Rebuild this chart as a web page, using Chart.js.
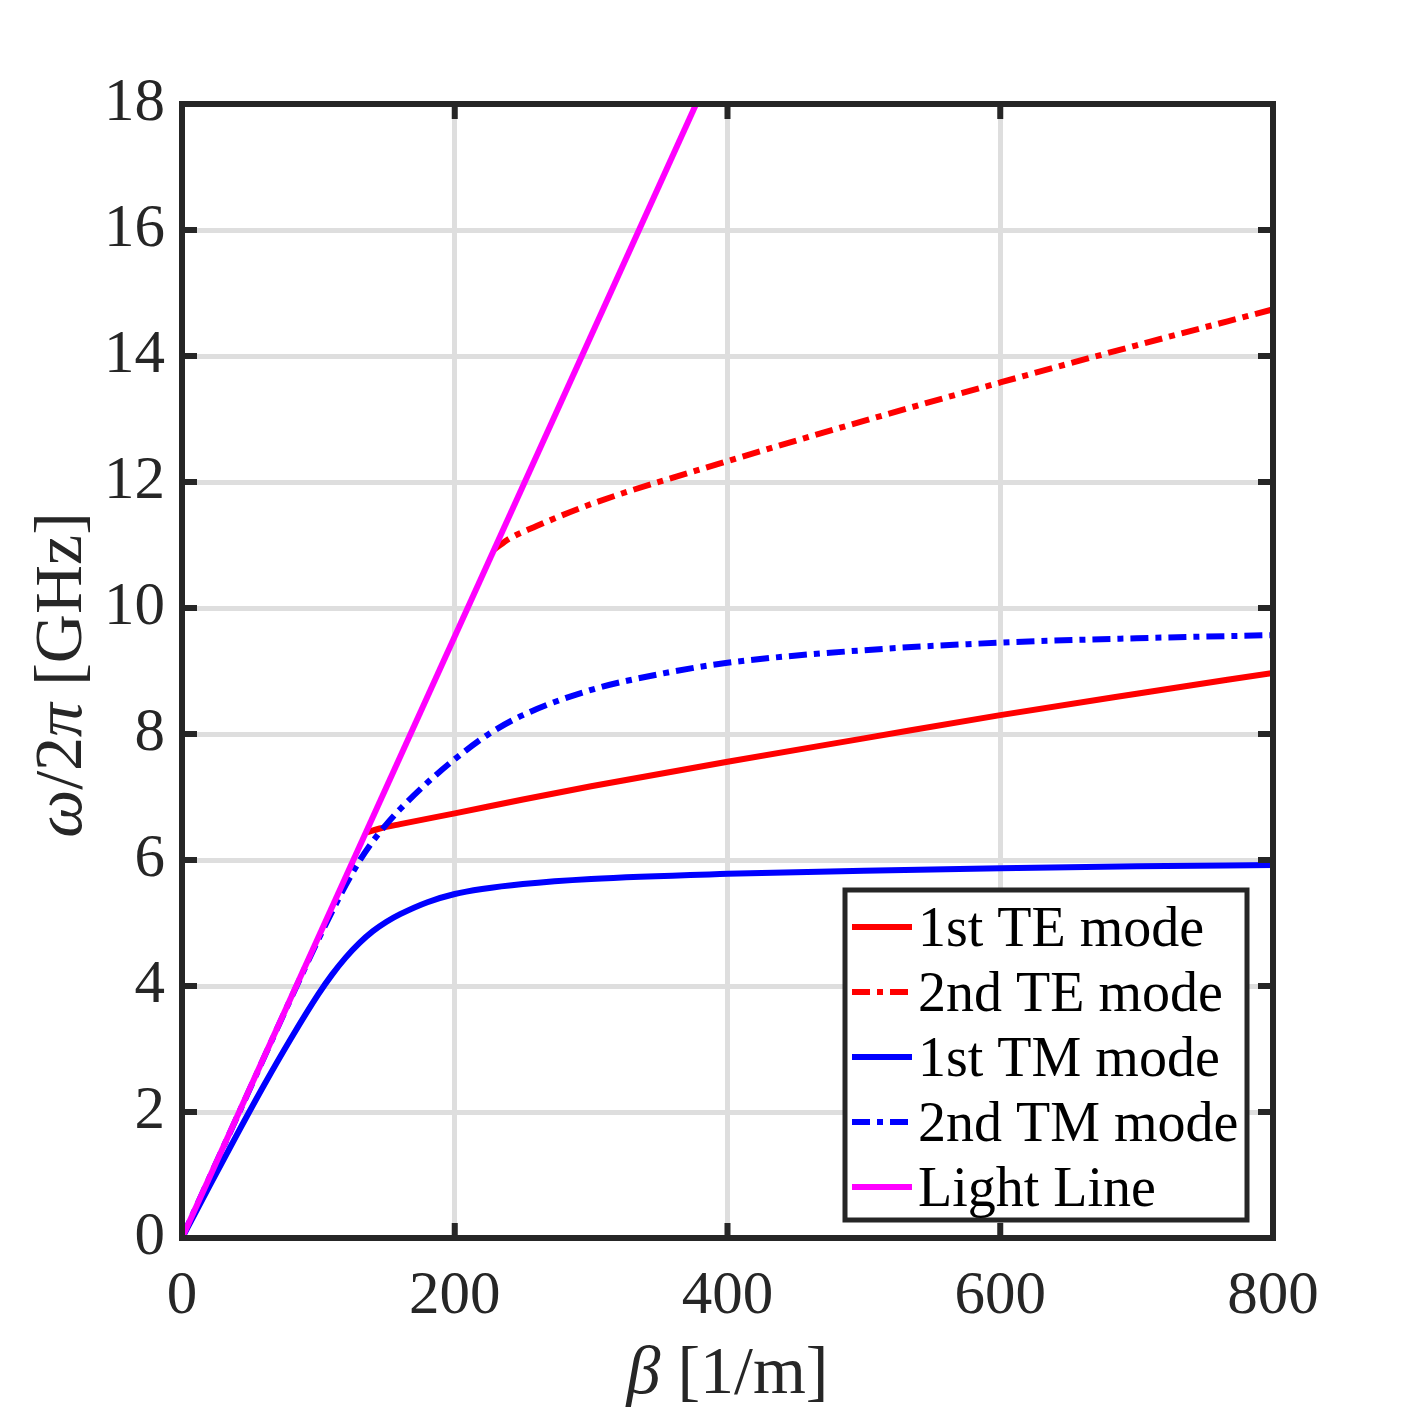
<!DOCTYPE html>
<html>
<head>
<meta charset="utf-8">
<script src="https://cdn.jsdelivr.net/npm/chart.js@4.4.1/dist/chart.umd.min.js"></script>
<style>
  body { margin: 0; background: #fff; }
</style>
</head>
<body>
<canvas id="grafica" width="1407" height="1407"></canvas>
<script>
// ticks
const xTicks = [0, 200, 400, 600, 800];
const yTicks = [0, 2, 4, 6, 8, 10, 12, 14, 16, 18];

// beta [1/m] y frecuencia [GHz] de cada curva
const betaTE1 = [136, 145, 160, 200, 250, 300, 400, 500, 600, 700, 800];
const fTE1 = [6.44, 6.5, 6.57, 6.74, 6.96, 7.17, 7.56, 7.93, 8.3, 8.64, 8.97];

const betaTE2 = [229, 240, 260, 300, 400, 500, 600, 700, 800];
const fTE2 = [10.93, 11.1, 11.3, 11.65, 12.33, 12.97, 13.58, 14.17, 14.74];

const betaTM1 = [0, 20, 40, 60, 80, 100, 110, 120, 130, 140, 150, 160, 180, 200, 220, 250, 300, 400, 500, 600, 700, 800];
const fTM1 = [0, 0.82, 1.63, 2.42, 3.17, 3.87, 4.18, 4.45, 4.68, 4.87, 5.02, 5.14, 5.33, 5.46, 5.54, 5.62, 5.7, 5.78, 5.83, 5.87, 5.9, 5.92];

const betaTM2 = [0, 50, 80, 100, 110, 120, 130, 140, 150, 160, 180, 200, 225, 250, 300, 350, 400, 500, 600, 700, 800];
const fTM2 = [0, 2.38, 3.81, 4.74, 5.18, 5.6, 5.98, 6.3, 6.57, 6.81, 7.23, 7.6, 8.0, 8.3, 8.7, 8.95, 9.13, 9.33, 9.45, 9.52, 9.57];

const betaLuz = [0, 377];
const fLuz = [0, 18];

const etiquetas = ["1st TE mode", "2nd TE mode", "1st TM mode", "2nd TM mode", "Light Line"];
const colores = ["#ff0000", "#ff0000", "#0000ff", "#0000ff", "#ff00ff"];
const guionDot = [18, 7, 6, 7];
const guiones = [[], guionDot, [], guionDot, []];

function puntos(xs, ys) {
  return xs.map((x, i) => ({ x: x, y: ys[i] }));
}

const series = [
  puntos(betaTE1, fTE1),
  puntos(betaTE2, fTE2),
  puntos(betaTM1, fTM1),
  puntos(betaTM2, fTM2),
  puntos(betaLuz, fLuz),
];

const ejeColor = "#262626";
const fuente = "Liberation Serif";

// marco, ticks interiores, leyenda y titulos de ejes
const marco = {
  id: "marco",
  afterDraw(chart) {
    const c = chart.ctx;
    const a = chart.chartArea;
    const sx = chart.scales.x;
    const sy = chart.scales.y;
    c.save();

    // ticks hacia adentro
    c.strokeStyle = ejeColor;
    c.lineWidth = 6;
    const tl = 15;
    xTicks.forEach((v) => {
      const px = sx.getPixelForValue(v);
      c.beginPath();
      c.moveTo(px, a.bottom); c.lineTo(px, a.bottom - tl);
      c.moveTo(px, a.top); c.lineTo(px, a.top + tl);
      c.stroke();
    });
    yTicks.forEach((v) => {
      const py = sy.getPixelForValue(v);
      c.beginPath();
      c.moveTo(a.left, py); c.lineTo(a.left + tl, py);
      c.moveTo(a.right, py); c.lineTo(a.right - tl, py);
      c.stroke();
    });

    // caja
    c.strokeRect(a.left, a.top, a.right - a.left, a.bottom - a.top);

    // leyenda
    const bx = a.right - 428, by = a.bottom - 348, bw = 402, bh = 330;
    c.fillStyle = "#fff";
    c.fillRect(bx, by, bw, bh);
    c.lineWidth = 5;
    c.strokeStyle = ejeColor;
    c.strokeRect(bx, by, bw, bh);
    c.font = "56px '" + fuente + "'";
    c.textAlign = "left";
    c.textBaseline = "alphabetic";
    etiquetas.forEach((t, i) => {
      const yy = by + 37 + 65 * i;
      c.beginPath();
      c.strokeStyle = colores[i];
      c.lineWidth = 6;
      c.setLineDash(guiones[i]);
      c.moveTo(bx + 7, yy);
      c.lineTo(bx + 67, yy);
      c.stroke();
      c.setLineDash([]);
      c.fillStyle = "#000";
      c.fillText(t, bx + 73, yy + 19);
    });

    // titulo eje x: beta [1/m]
    c.fillStyle = ejeColor;
    c.textBaseline = "middle";
    const normal = "68px '" + fuente + "'";
    const italica = "italic 68px '" + fuente + "'";
    const partesX = [["β", italica], [" [1/m]", normal]];
    dibujarPartes(c, partesX, (a.left + a.right) / 2, 1375);

    // titulo eje y: omega/2pi [GHz]
    c.translate(63, (a.top + a.bottom) / 2 + 4);
    c.rotate(-Math.PI / 2);
    const partesY = [["ω", italica], ["/2", normal], ["π", italica], [" [GHz]", normal]];
    dibujarPartes(c, partesY, 0, 0);

    c.restore();
  },
};

function dibujarPartes(c, partes, cx, cy) {
  let total = 0;
  partes.forEach((p) => { c.font = p[1]; total += c.measureText(p[0]).width; });
  let x = cx - total / 2;
  c.textAlign = "left";
  partes.forEach((p) => {
    c.font = p[1];
    c.fillText(p[0], x, cy);
    x += c.measureText(p[0]).width;
  });
}

const ctx = document.getElementById("grafica");

new Chart(ctx, {
  type: "scatter",
  data: {
    datasets: series.map((d, i) => ({
      label: etiquetas[i],
      data: d,
      showLine: true,
      borderColor: colores[i],
      backgroundColor: colores[i],
      borderWidth: 6,
      borderDash: guiones[i],
      pointRadius: 0,
      cubicInterpolationMode: "monotone",
      order: 4 - i, // la linea de luz queda encima
    })),
  },
  options: {
    responsive: false,
    animation: false,
    layout: { padding: { left: 0, top: 104, right: 134, bottom: 0 } },
    plugins: {
      legend: { display: false },
      tooltip: { enabled: false },
    },
    scales: {
      x: {
        type: "linear",
        min: 0,
        max: 800,
        afterBuildTicks: (s) => { s.ticks = xTicks.map((v) => ({ value: v })); },
        afterFit: (s) => { s.height = 169; },
        grid: { color: "#dedede", lineWidth: 5, drawTicks: false },
        border: { display: false },
        ticks: {
          padding: 22,
          color: ejeColor,
          font: { family: fuente, size: 61 },
          maxRotation: 0,
        },
      },
      y: {
        type: "linear",
        min: 0,
        max: 18,
        afterBuildTicks: (s) => { s.ticks = yTicks.map((v) => ({ value: v })); },
        afterFit: (s) => { s.width = 182; },
        grid: { color: "#dedede", lineWidth: 5, drawTicks: false },
        border: { display: false },
        ticks: {
          padding: 17,
          color: ejeColor,
          font: { family: fuente, size: 61 },
        },
      },
    },
  },
  plugins: [marco],
});
</script>
</body>
</html>
